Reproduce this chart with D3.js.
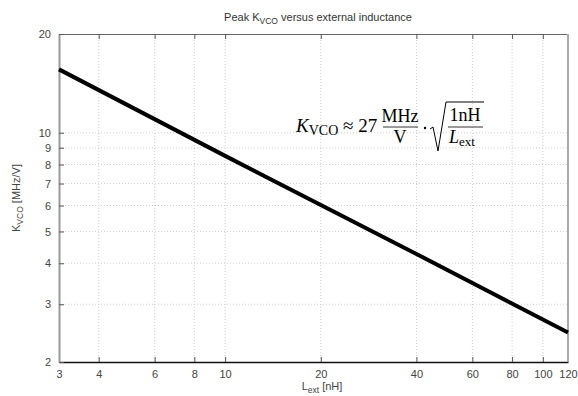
<!DOCTYPE html>
<meta charset="utf-8">
<script src="https://d3js.org/d3.v7.min.js"></script>
<style>
  body { margin: 0; background: #fff; }
  text { font-family: "Liberation Sans", Arial, sans-serif; }
</style>
<body>
<div id="chart"></div>
<script>
    // values
    const lext = [3, 10, 40, 120];          // nH
    const kvco = [15.6, 8.5, 4.27, 2.46];   // MHz/V
    const xTicks = [3, 4, 6, 8, 10, 20, 40, 60, 80, 100, 120];
    const yTicks = [2, 3, 4, 5, 6, 7, 8, 9, 10, 20];

    const W = 578, H = 396;
    const margin = {top: 34, right: 10, bottom: 34, left: 59};
    const width = W - margin.left - margin.right,
          height = H - margin.top - margin.bottom;

    const svg = d3.select("#chart").append("svg")
        .attr("width", W).attr("height", H);
    const g = svg.append("g")
        .attr("transform", `translate(${margin.left},${margin.top})`);

    const x = d3.scaleLog().domain([3, 120]).range([0, width]);
    const y = d3.scaleLog().domain([2, 20]).range([height, 0]);

    // grid
    g.append("g").selectAll("line").data(xTicks.slice(1, -1)).join("line")
        .attr("x1", d => x(d)).attr("x2", d => x(d))
        .attr("y1", 0).attr("y2", height)
        .attr("stroke", "#d0d0d0").attr("stroke-dasharray", "1,2");
    g.append("g").selectAll("line").data(yTicks.slice(1, -1)).join("line")
        .attr("y1", d => y(d)).attr("y2", d => y(d))
        .attr("x1", 0).attr("x2", width)
        .attr("stroke", "#d0d0d0").attr("stroke-dasharray", "1,2");

    // axes
    const xAx = g.append("g").attr("transform", `translate(0,${height})`)
        .call(d3.axisBottom(x).tickValues(xTicks).tickFormat(d3.format("d"))
            .tickSizeInner(-5).tickSizeOuter(0).tickPadding(8));
    const xTop = g.append("g")
        .call(d3.axisTop(x).tickValues(xTicks.slice(1, -1)).tickFormat("")
            .tickSizeInner(-5).tickSizeOuter(0));
    const yAx = g.append("g")
        .call(d3.axisLeft(y).tickValues(yTicks).tickFormat(d3.format("d"))
            .tickSizeInner(-5).tickSizeOuter(0).tickPadding(8));

    [xAx, yAx].forEach(a => {
        a.selectAll("text").attr("fill", "#444").style("font-size", "11px")
            .style("font-family", "Liberation Sans, Arial, sans-serif");
        a.selectAll(".tick line").attr("stroke", "#555");
    });
    xTop.selectAll(".tick line").attr("stroke", "#555");
    xAx.select(".domain").attr("stroke", "#111").attr("stroke-width", 1.5);
    yAx.select(".domain").attr("stroke", "#999").attr("stroke-width", 2);
    xTop.select(".domain").attr("stroke", "#666").attr("stroke-width", 1.2);
    g.append("line").attr("x1", width).attr("x2", width).attr("y1", 0).attr("y2", height)
        .attr("stroke", "#aaa").attr("stroke-width", 2);

    // curve
    const line = d3.line().x((d, i) => x(lext[i])).y(d => y(d));
    g.append("path").datum(kvco).attr("d", line)
        .attr("fill", "none").attr("stroke", "#000").attr("stroke-width", 4);

    // title
    const title = svg.append("text").attr("x", 318).attr("y", 21)
        .attr("text-anchor", "middle").attr("fill", "#333").style("font-size", "11px");
    title.append("tspan").text("Peak K");
    title.append("tspan").attr("dy", 3).style("font-size", "8.5px").text("VCO");
    title.append("tspan").attr("dy", -3).text(" versus external inductance");

    // axis labels
    const xl = svg.append("text").attr("x", 322).attr("y", 390)
        .attr("text-anchor", "middle").attr("fill", "#444").style("font-size", "11px");
    xl.append("tspan").text("L");
    xl.append("tspan").attr("dy", 3).style("font-size", "8.5px").text("ext");
    xl.append("tspan").attr("dy", -3).text(" [nH]");

    const yl = svg.append("text").attr("transform", `translate(20,${margin.top + height / 2}) rotate(-90)`)
        .attr("text-anchor", "middle").attr("fill", "#444").style("font-size", "11px");
    yl.append("tspan").text("K");
    yl.append("tspan").attr("dy", 3).style("font-size", "8.5px").text("VCO");
    yl.append("tspan").attr("dy", -3).text(" [MHz/V]");

    // formula
    const f = svg.append("g").attr("fill", "#000");
    const serif = "Liberation Serif, DejaVu Serif, serif";
    const t1 = f.append("text").attr("x", 296).attr("y", 132).style("font-size", "19px")
        .style("font-family", serif);
    t1.append("tspan").style("font-style", "italic").text("K");
    t1.append("tspan").attr("dy", 3).style("font-size", "14px").text("VCO");
    t1.append("tspan").attr("dy", -3).text(" ≈ 27");
    f.append("text").attr("x", 400).attr("y", 122).attr("text-anchor", "middle")
        .style("font-size", "18px").style("font-family", serif).text("MHz");
    f.append("line").attr("x1", 383).attr("x2", 418).attr("y1", 127).attr("y2", 127)
        .attr("stroke", "#000").attr("stroke-width", 0.8);
    f.append("text").attr("x", 400).attr("y", 143).attr("text-anchor", "middle")
        .style("font-size", "18px").style("font-family", serif).text("V");
    f.append("circle").attr("cx", 425).attr("cy", 128).attr("r", 1.2);
    f.append("path").attr("d", "M430,129 L433,127 L438,151 L446,102 L484,102")
        .attr("fill", "none").attr("stroke", "#000").attr("stroke-width", 1);
    f.append("text").attr("x", 465).attr("y", 121).attr("text-anchor", "middle")
        .style("font-size", "18px").style("font-family", serif).text("1nH");
    f.append("line").attr("x1", 448).attr("x2", 483).attr("y1", 127).attr("y2", 127)
        .attr("stroke", "#000").attr("stroke-width", 0.8);
    const t2 = f.append("text").attr("x", 449).attr("y", 143)
        .style("font-size", "18px").style("font-family", serif);
    t2.append("tspan").style("font-style", "italic").text("L");
    t2.append("tspan").attr("dy", 3).style("font-size", "13px").text("ext");
</script>
</body>
